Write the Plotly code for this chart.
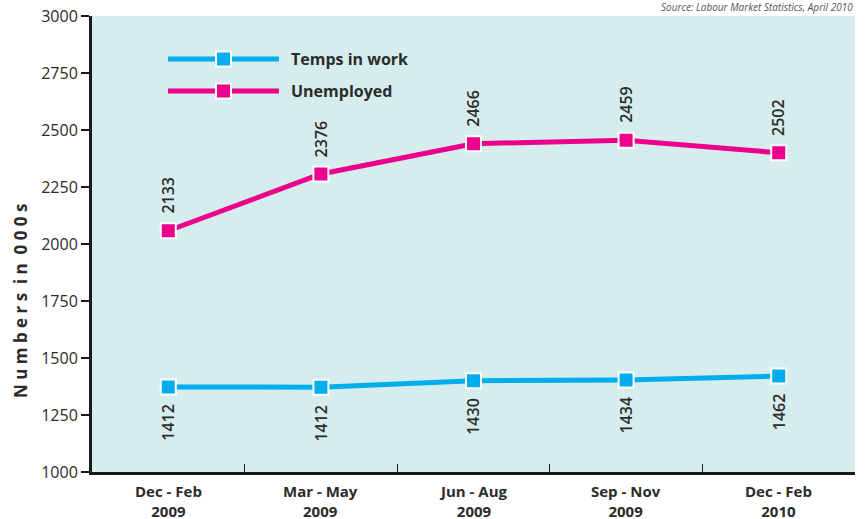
import plotly.graph_objects as go

periods = ["Dec - Feb", "Mar - May", "Jun - Aug", "Sep - Nov", "Dec - Feb"]
years = ["2009", "2009", "2009", "2009", "2010"]
categories = [p + " " + y for p, y in zip(periods, years)]
temps_values = [1373, 1372, 1400, 1404, 1421]
unemployed_values = [2058, 2307, 2440, 2455, 2400]
temps_labels = ["1412", "1412", "1430", "1434", "1462"]
unemployed_labels = ["2133", "2376", "2466", "2459", "2502"]
y_ticks = [1000, 1250, 1500, 1750, 2000, 2250, 2500, 2750, 3000]

CYAN = "#00AEEF"
MAGENTA = "#EC008C"
BG = "#D6EDED"
TXT = "#2b2b2b"

W, H = 867, 519
L, R, T, B = 92, 12, 16, 47
plot_w = W - L - R
plot_h = H - T - B
def px_x(px):
    return (px - L) / plot_w
def px_y(py):
    return 1 - (py - T) / plot_h

fig = go.Figure()
fig.add_trace(go.Scatter(
    x=categories, y=temps_values, mode="lines+markers", name="Temps in work",
    line=dict(color=CYAN, width=5),
    marker=dict(symbol="square", size=15, color=CYAN, line=dict(color="white", width=2)),
    showlegend=False))
fig.add_trace(go.Scatter(
    x=categories, y=unemployed_values, mode="lines+markers", name="Unemployed",
    line=dict(color=MAGENTA, width=5),
    marker=dict(symbol="square", size=15, color=MAGENTA, line=dict(color="white", width=2)),
    showlegend=False))

label_font = dict(family="Open Sans", size=16, color=TXT, weight=600)
annotations = []
for c, v, lab in zip(categories, unemployed_values, unemployed_labels):
    annotations.append(dict(x=c, y=v, text=lab, textangle=-90, showarrow=False,
                            yanchor="bottom", yshift=15, font=label_font))
for c, v, lab in zip(categories, temps_values, temps_labels):
    annotations.append(dict(x=c, y=v, text=lab, textangle=-90, showarrow=False,
                            yanchor="top", yshift=-15, font=label_font))

# x category labels (two lines)
xfont = dict(family="Open Sans", size=15, color=TXT, weight="bold")
for c, p, y in zip(categories, periods, years):
    annotations.append(dict(x=c, yref="paper", y=px_y(501), text=p + "<br>" + y, showarrow=False,
                            xanchor="center", yanchor="middle", font=xfont))

# custom legend
legend_items = [("Temps in work", CYAN), ("Unemployed", MAGENTA)]
shapes = []
for i, (name, col) in enumerate(legend_items):
    cy = 59 + i * 32
    yy = px_y(cy)
    shapes.append(dict(type="line", xref="paper", yref="paper", x0=px_x(168), x1=px_x(279),
                       y0=yy, y1=yy, line=dict(color=col, width=5)))
    shapes.append(dict(type="rect", xref="paper", yref="paper",
                       x0=px_x(216), x1=px_x(231), y0=px_y(cy + 7.5), y1=px_y(cy - 7.5),
                       fillcolor=col, line=dict(color="white", width=2)))
    annotations.append(dict(xref="paper", yref="paper", x=px_x(289), y=yy, text="<b>" + name + "</b>",
                            showarrow=False, xanchor="left", yanchor="middle",
                            font=dict(family="Open Sans", size=16, color=TXT)))

# y axis title
annotations.append(dict(xref="paper", yref="paper", x=px_x(20), y=px_y(301), textangle=-90,
                        text="<b>N u m b e r s &nbsp;i n &nbsp;0 0 0 s</b>", showarrow=False,
                        xanchor="center", yanchor="middle",
                        font=dict(family="Open Sans", size=17, color=TXT)))

annotations.append(dict(xref="paper", yref="paper", x=px_x(855), y=1, xanchor="right", yanchor="bottom",
                        text="<i>Source: Labour Market Statistics, April 2010</i>", showarrow=False,
                        font=dict(family="Open Sans", size=10, color="#555")))

fig.update_layout(
    width=W, height=H,
    margin=dict(l=L, r=R, t=T, b=B, autoexpand=False),
    paper_bgcolor="white", plot_bgcolor=BG,
    annotations=annotations, shapes=shapes,
    xaxis=dict(type="category", range=[-0.5, 4.5], showgrid=False, zeroline=False, automargin=False,
               showline=True, linecolor="#1a1a1a", linewidth=3, showticklabels=False,
               ticks="inside", tickson="boundaries", ticklen=8, tickcolor="#1a1a1a", tickwidth=1),
    yaxis=dict(range=[1000, 3000], tickvals=y_ticks, showgrid=False, zeroline=False, automargin=False,
               showline=True, linecolor="#1a1a1a", linewidth=3,
               ticks="outside", ticklen=8, tickcolor="#1a1a1a", tickwidth=2,
               tickfont=dict(family="Open Sans", size=16, color=TXT)),
)

fig.write_html("out.html", config={"displayModeBar": False},
               post_script="document.body.style.margin='0';document.body.style.padding='0';")
